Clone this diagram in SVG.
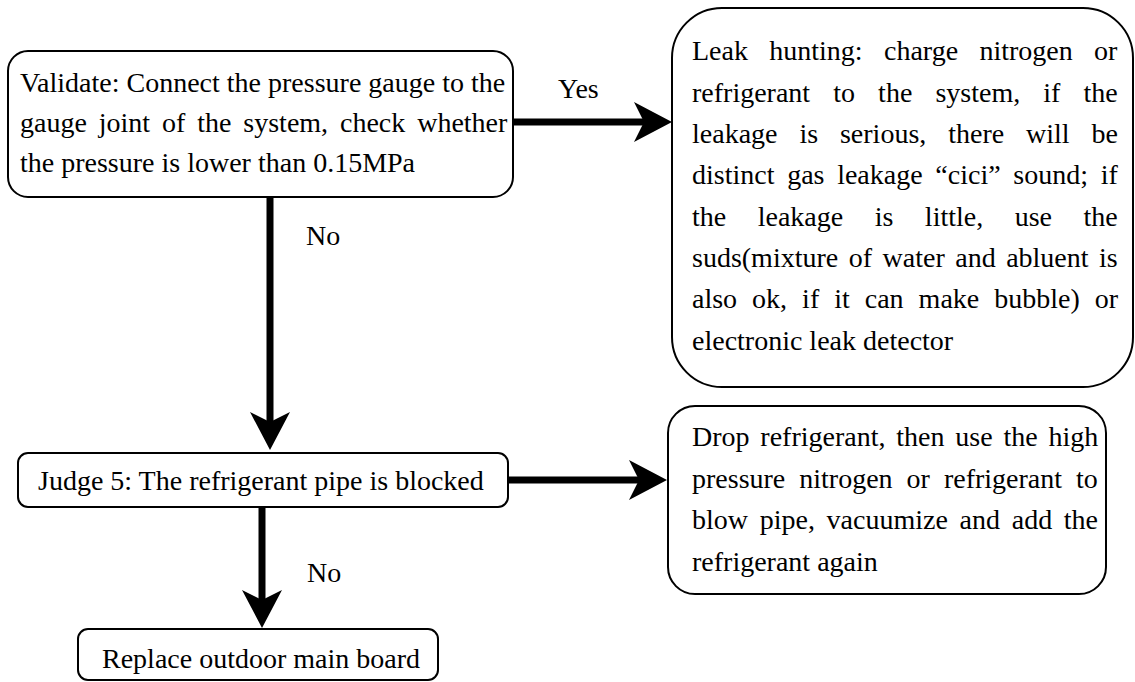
<svg xmlns="http://www.w3.org/2000/svg" width="1135" height="682" viewBox="0 0 1135 682">
<style>
.box{fill:#fff;stroke:#000;stroke-width:2}
.t{font-family:"Liberation Serif","Times New Roman",serif;font-size:28px;fill:#000}
.conn{stroke:#000;stroke-width:7;fill:none}
</style>
<defs>
<marker id="arrow" viewBox="0 0 38 40" refX="28" refY="20" markerWidth="38" markerHeight="40" markerUnits="userSpaceOnUse" orient="auto">
<path d="M0,0 L38,20 L0,40 L10,20 Z" fill="#000"/>
</marker>
</defs>
<rect width="1135" height="682" fill="#fff"/>
<g id="connectors">
<line class="conn" x1="270" y1="198" x2="270" y2="440" marker-end="url(#arrow)"/>
<line class="conn" x1="513" y1="122" x2="662" y2="122" marker-end="url(#arrow)"/>
<line class="conn" x1="508" y1="480" x2="657" y2="480" marker-end="url(#arrow)"/>
<line class="conn" x1="262" y1="508" x2="262" y2="618" marker-end="url(#arrow)"/>
<text class="t" x="558" y="98">Yes</text>
<text class="t" x="306" y="245">No</text>
<text class="t" x="307" y="582">No</text>
</g>
<g id="validate">
<rect class="box" x="8" y="51" width="505" height="146" rx="20"/>
<text class="t" x="20" y="92">Validate: Connect the pressure gauge to the</text>
<text class="t" x="20" y="132" style="word-spacing:4.9px">gauge joint of the system, check whether</text>
<text class="t" x="20" y="172">the pressure is lower than 0.15MPa</text>
</g>
<g id="leak">
<rect class="box" x="672" y="8" width="461" height="379" rx="50"/>
<text class="t" x="692" y="60" style="word-spacing:14.35px">Leak hunting: charge nitrogen or</text>
<text class="t" x="692" y="101.5" style="word-spacing:16.1px">refrigerant to the system, if the</text>
<text class="t" x="692" y="143" style="word-spacing:14.9px">leakage is serious, there will be</text>
<text class="t" x="692" y="184" style="word-spacing:5.7px">distinct gas leakage “cici” sound; if</text>
<text class="t" x="692" y="225.5" style="word-spacing:24.5px">the leakage is little, use the</text>
<text class="t" x="692" y="267" style="word-spacing:3.5px">suds(mixture of water and abluent is</text>
<text class="t" x="692" y="308" style="word-spacing:8px">also ok, if it can make bubble) or</text>
<text class="t" x="692" y="349.5">electronic leak detector</text>
</g>
<g id="judge5">
<rect class="box" x="18" y="453" width="490" height="54" rx="10"/>
<text class="t" x="38" y="490">Judge 5: The refrigerant pipe is blocked</text>
</g>
<g id="drop">
<rect class="box" x="668" y="406" width="438" height="188" rx="27"/>
<text class="t" x="692" y="446" style="word-spacing:3.8px">Drop refrigerant, then use the high</text>
<text class="t" x="692" y="487.5" style="word-spacing:7px">pressure nitrogen or refrigerant to</text>
<text class="t" x="692" y="529" style="word-spacing:4.7px">blow pipe, vacuumize and add the</text>
<text class="t" x="692" y="570.5">refrigerant again</text>
</g>
<g id="replace">
<rect class="box" x="78" y="629" width="360" height="51" rx="10"/>
<text class="t" x="102" y="668">Replace outdoor main board</text>
</g>
</svg>
